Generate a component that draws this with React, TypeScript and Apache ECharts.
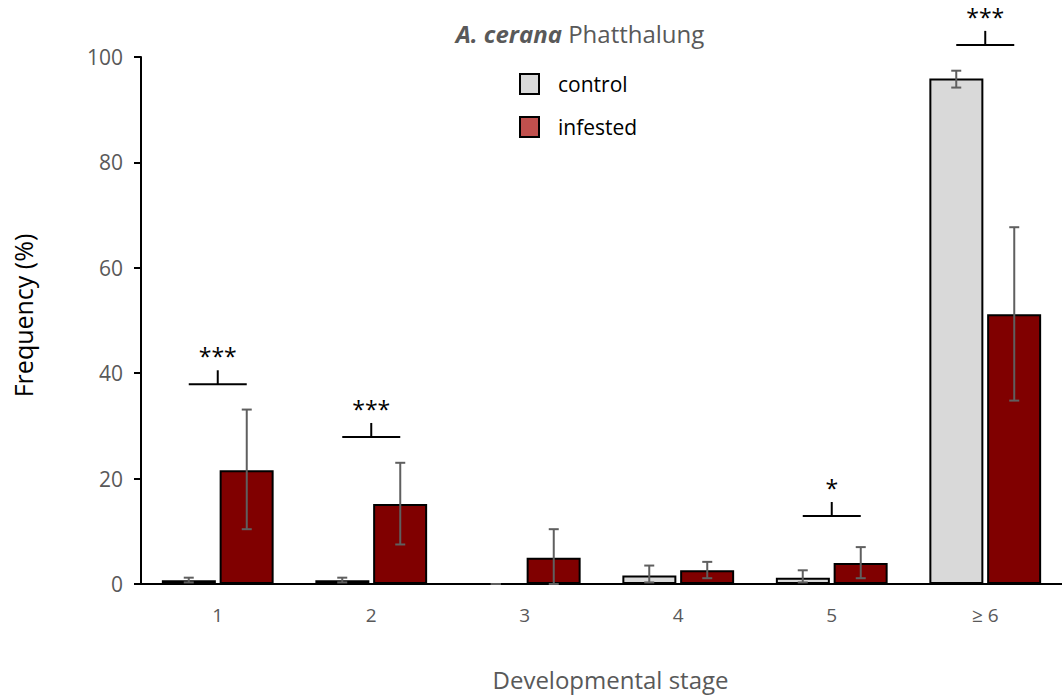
import React, { useEffect, useRef } from 'react';
import * as echarts from 'echarts';

const categories = ['1', '2', '3', '4', '5', '≥ 6'];
const controlMean = [0.7, 0.7, 0, 1.6, 1.2, 95.9];
const controlLow = [0.3, 0.3, 0, 0.3, 0.3, 94.2];
const controlHigh = [1.2, 1.2, 0, 3.5, 2.6, 97.4];
const infestedMean = [21.6, 15.2, 5.0, 2.6, 4.0, 51.2];
const infestedLow = [10.4, 7.5, 0, 1.1, 1.1, 34.8];
const infestedHigh = [33.1, 23.0, 10.4, 4.2, 7.0, 67.7];
const sigCategory = [0, 1, 4, 5];
const sigLevel = [37.9, 27.9, 12.9, 102.3];
const sigLabel = ['***', '***', '*', '***'];
const yTicks = [0, 20, 40, 60, 80, 100];

const FONT = 'Open Sans';
const BAR_W = 54;
const HALF = 29;

export default function App() {
  const ref = useRef<HTMLDivElement>(null);
  useEffect(() => {
    const chart = echarts.init(ref.current as HTMLDivElement, null, { renderer: 'svg' });
    const errRender = (offset: number) => (params: any, api: any) => {
      const lo = api.coord([api.value(0), api.value(1)]);
      const hi = api.coord([api.value(0), api.value(2)]);
      const x = lo[0] + offset;
      const st = { stroke: '#5f5f5f', lineWidth: 2 };
      return {
        type: 'group',
        children: [
          { type: 'line', shape: { x1: x, y1: lo[1], x2: x, y2: hi[1] }, style: st },
          { type: 'line', shape: { x1: x - 5, y1: lo[1], x2: x + 5, y2: lo[1] }, style: st },
          { type: 'line', shape: { x1: x - 5, y1: hi[1], x2: x + 5, y2: hi[1] }, style: st },
        ],
      };
    };
    const option: any = {
      animation: false,
      textStyle: { fontFamily: FONT },
      grid: { left: 141, top: 57, width: 926, height: 527 },
      graphic: [
        {
          type: 'text',
          x: 580,
          y: 33,
          style: {
            text: '{a|A. cerana} {b|Phatthalung}',
            align: 'center',
            verticalAlign: 'middle',
            fill: '#595959',
            fontFamily: FONT,
            fontSize: 24,
            rich: {
              a: { fontStyle: 'italic', fontWeight: 'bold', fontSize: 24, fill: '#595959', fontFamily: FONT },
              b: { fontSize: 24, fill: '#595959', fontFamily: FONT },
            },
          },
        },
      ],
      legend: {
        orient: 'vertical',
        left: 514,
        top: 68,
        itemWidth: 19,
        itemHeight: 20,
        itemGap: 21,
        icon: 'rect',
        textStyle: { fontSize: 21, color: '#000', fontFamily: FONT, padding: [0, 0, 0, 14] },
        data: [
          { name: 'control', itemStyle: { color: '#d9d9d9', borderColor: '#000', borderWidth: 2 } },
          { name: 'infested', itemStyle: { color: '#c0504d', borderColor: '#000', borderWidth: 2 } },
        ],
      },
      xAxis: {
        type: 'category',
        data: categories,
        name: 'Developmental stage',
        nameLocation: 'middle',
        nameGap: 83,
        nameTextStyle: { fontSize: 24, color: '#595959', fontFamily: FONT, padding: [0, 0, 0, 18] },
        axisLine: { lineStyle: { color: '#000', width: 2 } },
        axisTick: { show: false },
        axisLabel: {
          margin: 21,
          fontSize: 19,
          color: '#595959',
          formatter: (v: string) => '{t|' + v + '}',
          rich: { t: { fontSize: 19, color: '#595959', fontFamily: FONT } },
        },
      },
      yAxis: {
        type: 'value',
        min: yTicks[0],
        max: yTicks[yTicks.length - 1],
        interval: 20,
        name: 'Frequency (%)',
        nameLocation: 'middle',
        nameGap: 106,
        nameTextStyle: { fontSize: 25, color: '#000', fontFamily: FONT, padding: [0, 0, 0, 10] },
        splitLine: { show: false },
        axisLine: { show: true, lineStyle: { color: '#000', width: 2 } },
        axisTick: { show: true, length: 7, lineStyle: { color: '#000', width: 2 } },
        axisLabel: {
          margin: 18,
          formatter: '{t|{value}}',
          rich: { t: { fontSize: 21, color: '#595959', fontFamily: FONT } },
        },
      },
      series: [
        {
          name: 'control',
          type: 'bar',
          data: controlMean,
          barWidth: BAR_W,
          barGap: '7%',
          itemStyle: { color: '#d9d9d9', borderColor: '#000', borderWidth: 2 },
        },
        {
          name: 'infested',
          type: 'bar',
          data: infestedMean,
          barWidth: BAR_W,
          barGap: '7%',
          itemStyle: { color: '#800000', borderColor: '#000', borderWidth: 2 },
        },
        {
          type: 'custom',
          z: 5,
          silent: true,
          clip: false,
          data: categories.map((_, i) => [i, controlLow[i], controlHigh[i]]),
          renderItem: errRender(-HALF),
        },
        {
          type: 'custom',
          z: 5,
          silent: true,
          clip: false,
          data: categories.map((_, i) => [i, infestedLow[i], infestedHigh[i]]),
          renderItem: errRender(HALF),
        },
        {
          type: 'custom',
          z: 6,
          silent: true,
          clip: false,
          data: sigCategory.map((c, i) => [c, sigLevel[i], sigLabel[i]]),
          renderItem: (params: any, api: any) => {
            const p = api.coord([api.value(0), api.value(1)]);
            const label = sigLabel[params.dataIndex];
            const st = { stroke: '#000', lineWidth: 2 };
            return {
              type: 'group',
              children: [
                { type: 'line', shape: { x1: p[0] - HALF, y1: p[1], x2: p[0] + HALF, y2: p[1] }, style: st },
                { type: 'line', shape: { x1: p[0], y1: p[1], x2: p[0], y2: p[1] - 14 }, style: st },
                {
                  type: 'text',
                  x: p[0],
                  y: p[1] - 28,
                  style: {
                    text: label,
                    fill: '#000',
                    fontSize: 23,
                    fontFamily: FONT,
                    align: 'center',
                    verticalAlign: 'middle',
                  },
                },
              ],
            };
          },
        },
      ],
    };
    chart.setOption(option);
    return () => chart.dispose();
  }, []);
  return <div ref={ref} style={{ position: 'absolute', left: 0, top: 0, width: 1062, height: 698 }} />;
}
